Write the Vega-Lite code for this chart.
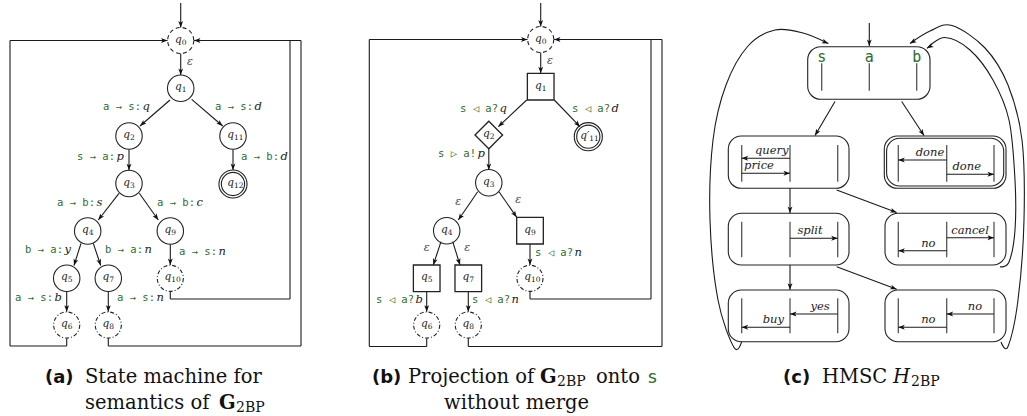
{
"$schema":"https://vega.github.io/schema/vega-lite/v6.json",
"width":1027,"height":416,"padding":0,"autosize":{"type":"none"},
"background":"white",
"config":{"view":{"stroke":null}},
"datasets":{
"nodes":[
{"n":"q","s":"0","x":180.7,"y":40.5,"k":"dash"},
{"n":"q","s":"1","x":180.7,"y":88.3,"k":"circle"},
{"n":"q","s":"2","x":129,"y":136,"k":"circle"},
{"n":"q","s":"11","x":233,"y":136,"k":"circle"},
{"n":"q","s":"3","x":129,"y":183.5,"k":"circle"},
{"n":"q","s":"12","x":233,"y":184,"k":"double"},
{"n":"q","s":"4","x":87.7,"y":231,"k":"circle"},
{"n":"q","s":"9","x":170.3,"y":231,"k":"circle"},
{"n":"q","s":"5","x":66.7,"y":278.3,"k":"circle"},
{"n":"q","s":"7","x":108.3,"y":278.3,"k":"circle"},
{"n":"q","s":"10","x":170.3,"y":278.3,"k":"dashdot"},
{"n":"q","s":"6","x":66.7,"y":325,"k":"dashdot"},
{"n":"q","s":"8","x":108.3,"y":325,"k":"dashdot"},
{"n":"q","s":"0","x":540.7,"y":39.5,"k":"dash"},
{"n":"q","s":"1","x":540.7,"y":86.7,"k":"square"},
{"n":"q","s":"2","x":488.8,"y":135,"k":"diamond"},
{"n":"q′","s":"11","x":588.3,"y":136.7,"k":"double"},
{"n":"q","s":"3","x":488.8,"y":182.7,"k":"circle"},
{"n":"q","s":"4","x":446.7,"y":230.7,"k":"circle"},
{"n":"q","s":"9","x":530,"y":230.7,"k":"square"},
{"n":"q","s":"5","x":426.7,"y":278.3,"k":"square"},
{"n":"q","s":"7","x":468.3,"y":278.3,"k":"square"},
{"n":"q","s":"10","x":530,"y":278.3,"k":"dashdot"},
{"n":"q","s":"6","x":426.7,"y":325,"k":"dashdot"},
{"n":"q","s":"8","x":468.3,"y":325,"k":"dashdot"}
],
"edges":[
{"x":180.7,"y":3,"x2":180.7,"y2":27.5,"t":"a"},
{"x":180.7,"y":53.5,"x2":180.7,"y2":75,"t":"a"},
{"x":170,"y":100,"x2":140,"y2":126,"t":"a"},
{"x":191.7,"y":99.3,"x2":222.7,"y2":126,"t":"a"},
{"x":129,"y":149.3,"x2":129,"y2":170.2,"t":"a"},
{"x":233,"y":149.3,"x2":233,"y2":170,"t":"a"},
{"x":119,"y":193.3,"x2":98.3,"y2":220,"t":"a"},
{"x":139.3,"y":193.3,"x2":158.3,"y2":220,"t":"a"},
{"x":81,"y":243.3,"x2":74,"y2":265.5,"t":"a"},
{"x":93.3,"y":243.3,"x2":100.7,"y2":265.5,"t":"a"},
{"x":170.3,"y":244.3,"x2":170.3,"y2":265,"t":"a"},
{"x":66.7,"y":291.6,"x2":66.7,"y2":311.7,"t":"a"},
{"x":108.3,"y":291.6,"x2":108.3,"y2":311.7,"t":"a"},
{"x":66.7,"y":338.3,"x2":66.7,"y2":346,"t":"l"},
{"x":66.7,"y":346,"x2":10,"y2":346,"t":"l"},
{"x":10,"y":346,"x2":10,"y2":40.5,"t":"l"},
{"x":10,"y":40.5,"x2":167.5,"y2":40.5,"t":"a"},
{"x":108.3,"y":338.3,"x2":108.3,"y2":346,"t":"l"},
{"x":108.3,"y":346,"x2":301,"y2":346,"t":"l"},
{"x":301,"y":346,"x2":301,"y2":40.5,"t":"l"},
{"x":301,"y":40.5,"x2":194,"y2":40.5,"t":"a"},
{"x":170.3,"y":291.6,"x2":170.3,"y2":299,"t":"l"},
{"x":170.3,"y":299,"x2":290,"y2":299,"t":"l"},
{"x":290,"y":299,"x2":290,"y2":40.5,"t":"l"},
{"x":540.7,"y":3,"x2":540.7,"y2":26.5,"t":"a"},
{"x":540.7,"y":52.5,"x2":540.7,"y2":73.3,"t":"a"},
{"x":526.7,"y":100,"x2":498.3,"y2":126.7,"t":"a"},
{"x":554.3,"y":100,"x2":580,"y2":126.7,"t":"a"},
{"x":488.8,"y":148.5,"x2":488.8,"y2":170,"t":"a"},
{"x":477.7,"y":191.7,"x2":458.3,"y2":220,"t":"a"},
{"x":499,"y":191.7,"x2":516.7,"y2":217.3,"t":"a"},
{"x":441,"y":241.7,"x2":433.3,"y2":265,"t":"a"},
{"x":452.7,"y":241.7,"x2":460,"y2":265,"t":"a"},
{"x":530,"y":244,"x2":530,"y2":265,"t":"a"},
{"x":426.7,"y":291.7,"x2":426.7,"y2":311.7,"t":"a"},
{"x":468.3,"y":291.7,"x2":468.3,"y2":311.7,"t":"a"},
{"x":426.7,"y":338.3,"x2":426.7,"y2":346.5,"t":"l"},
{"x":426.7,"y":346.5,"x2":369.3,"y2":346.5,"t":"l"},
{"x":369.3,"y":346.5,"x2":369.3,"y2":39.5,"t":"l"},
{"x":369.3,"y":39.5,"x2":527.5,"y2":39.5,"t":"a"},
{"x":468.3,"y":338.3,"x2":468.3,"y2":346.5,"t":"l"},
{"x":468.3,"y":346.5,"x2":662,"y2":346.5,"t":"l"},
{"x":662,"y":346.5,"x2":662,"y2":39.5,"t":"l"},
{"x":662,"y":39.5,"x2":554,"y2":39.5,"t":"a"},
{"x":530,"y":291.6,"x2":530,"y2":299,"t":"l"},
{"x":530,"y":299,"x2":651,"y2":299,"t":"l"},
{"x":651,"y":299,"x2":651,"y2":39.5,"t":"l"},
{"x":869.3,"y":23,"x2":869.3,"y2":46,"t":"a"},
{"x":835,"y":101.5,"x2":815,"y2":135.5,"t":"a"},
{"x":901.7,"y":101.5,"x2":924,"y2":135.5,"t":"a"},
{"x":790,"y":188.3,"x2":790,"y2":213,"t":"a"},
{"x":836.7,"y":190,"x2":896.7,"y2":212.5,"t":"a"},
{"x":790,"y":265,"x2":790,"y2":289.7,"t":"a"},
{"x":836.7,"y":266.7,"x2":896.7,"y2":289.2,"t":"a"},
{"x":790,"y":158.3,"x2":741.7,"y2":158.3,"t":"a"},
{"x":741.7,"y":173.3,"x2":790,"y2":173.3,"t":"a"},
{"x":946.7,"y":160,"x2":898.3,"y2":160,"t":"a"},
{"x":946.7,"y":174.3,"x2":994,"y2":174.3,"t":"a"},
{"x":790,"y":238.3,"x2":837.7,"y2":238.3,"t":"a"},
{"x":946.7,"y":237.7,"x2":994,"y2":237.7,"t":"a"},
{"x":946.7,"y":250.7,"x2":898.3,"y2":250.7,"t":"a"},
{"x":837.7,"y":314,"x2":790,"y2":314,"t":"a"},
{"x":790,"y":327.3,"x2":741.7,"y2":327.3,"t":"a"},
{"x":994,"y":314,"x2":946.7,"y2":314,"t":"a"},
{"x":946.7,"y":327.3,"x2":898.3,"y2":327.3,"t":"a"},
{"x":803,"y":33,"x2":828.3,"y2":43.5,"t":"h"},
{"x":945,"y":37.5,"x2":927,"y2":48.3,"t":"h"},
{"x":930,"y":31,"x2":910,"y2":43.5,"t":"h"}
],
"lifelines":[
{"x":821.7,"y":63.3,"y2":90.7},{"x":869.3,"y":63.3,"y2":90.7},{"x":916.7,"y":63.3,"y2":90.7},
{"x":741.7,"y":145,"y2":181.7},{"x":790,"y":145,"y2":181.7},{"x":837.7,"y":145,"y2":181.7},
{"x":898.3,"y":145,"y2":181.7},{"x":946.7,"y":145,"y2":181.7},{"x":994,"y":145,"y2":181.7},
{"x":741.7,"y":221.7,"y2":257.3},{"x":790,"y":221.7,"y2":257.3},{"x":837.7,"y":221.7,"y2":257.3},
{"x":898.3,"y":221.7,"y2":257.3},{"x":946.7,"y":221.7,"y2":257.3},{"x":994,"y":221.7,"y2":257.3},
{"x":741.7,"y":298.3,"y2":333.3},{"x":790,"y":298.3,"y2":333.3},{"x":837.7,"y":298.3,"y2":333.3},
{"x":898.3,"y":298.3,"y2":333.3},{"x":946.7,"y":298.3,"y2":333.3},{"x":994,"y":298.3,"y2":333.3}
],
"boxes":[
{"x":807.7,"x2":930,"y":46.7,"y2":99.3},
{"x":728.3,"x2":849,"y":136,"y2":188.3},
{"x":884.3,"x2":1006,"y":136,"y2":188.3},
{"x":886.6,"x2":1003.7,"y":138.3,"y2":186},
{"x":728.3,"x2":849,"y":213.3,"y2":265},
{"x":885,"x2":1006,"y":213.3,"y2":265},
{"x":728.3,"x2":849,"y":290,"y2":341.7},
{"x":885,"x2":1006,"y":290,"y2":341.7}
],
"curves":[
{"c":"L","i":0,"x":741.7,"y":341.7},{"c":"L","i":1,"x":734,"y":347.5},{"c":"L","i":2,"x":718,"y":300},{"c":"L","i":3,"x":710,"y":220},{"c":"L","i":4,"x":713,"y":140},{"c":"L","i":5,"x":726,"y":85},{"c":"L","i":6,"x":748,"y":46},{"c":"L","i":7,"x":775,"y":30},{"c":"L","i":8,"x":803,"y":33},{"c":"L","i":9,"x":828.3,"y":43.5},
{"c":"R1","i":0,"x":1000,"y":266.7},{"c":"R1","i":1,"x":1009,"y":262},{"c":"R1","i":2,"x":1015,"y":230},{"c":"R1","i":3,"x":1015,"y":180},{"c":"R1","i":4,"x":1009,"y":120},{"c":"R1","i":5,"x":993,"y":80},{"c":"R1","i":6,"x":970,"y":50},{"c":"R1","i":7,"x":945,"y":37.5},{"c":"R1","i":8,"x":927,"y":48.3},
{"c":"R2","i":0,"x":1001,"y":342},{"c":"R2","i":1,"x":1008,"y":346.5},{"c":"R2","i":2,"x":1018,"y":300},{"c":"R2","i":3,"x":1024,"y":220},{"c":"R2","i":4,"x":1022,"y":140},{"c":"R2","i":5,"x":1008,"y":85},{"c":"R2","i":6,"x":985,"y":48},{"c":"R2","i":7,"x":952,"y":25.5},{"c":"R2","i":8,"x":930,"y":31},{"c":"R2","i":9,"x":910,"y":43.5}
],
"elabels":[
{"g":"a → s:","v":"q","x":141,"y":107},
{"g":"a → s:","v":"d","x":253,"y":107},
{"g":"s → a:","v":"p","x":115,"y":157},
{"g":"a → b:","v":"d","x":279,"y":157},
{"g":"a → b:","v":"s","x":95,"y":202.7},
{"g":"a → b:","v":"c","x":195,"y":202.7},
{"g":"b → a:","v":"y","x":63,"y":250},
{"g":"b → a:","v":"n","x":143,"y":250},
{"g":"a → s:","v":"n","x":217,"y":251.7},
{"g":"a → s:","v":"b","x":53,"y":298.3},
{"g":"a → s:","v":"n","x":155,"y":298.3},
{"g":"s ◁ a?","v":"q","x":498,"y":108.7},
{"g":"s ◁ a?","v":"d","x":610,"y":108.7},
{"g":"s ▷ a!","v":"p","x":476,"y":154.3},
{"g":"s ◁ a?","v":"n","x":573,"y":252.7},
{"g":"s ◁ a?","v":"b","x":414,"y":300},
{"g":"s ◁ a?","v":"n","x":510,"y":300}
],
"texts":[
{"k":"msg","t":"query","x":771.7,"y":151},
{"k":"msg","t":"price","x":759,"y":166},
{"k":"msg","t":"done","x":930,"y":153.3},
{"k":"msg","t":"done","x":966.7,"y":167},
{"k":"msg","t":"split","x":810,"y":230.5},
{"k":"msg","t":"cancel","x":970,"y":230.5},
{"k":"msg","t":"no","x":928.3,"y":244},
{"k":"msg","t":"yes","x":820,"y":306.7},
{"k":"msg","t":"buy","x":773.3,"y":320},
{"k":"msg","t":"no","x":975,"y":306.7},
{"k":"msg","t":"no","x":928.3,"y":320},
{"k":"eps","t":"ε","x":190,"y":62},
{"k":"eps","t":"ε","x":550,"y":61},
{"k":"eps","t":"ε","x":458.3,"y":201.7},
{"k":"eps","t":"ε","x":518.3,"y":200},
{"k":"eps","t":"ε","x":426.7,"y":248.3},
{"k":"eps","t":"ε","x":467.3,"y":248.3},
{"k":"life","t":"s","x":821.7,"y":57.3},
{"k":"life","t":"a","x":869.3,"y":57.3},
{"k":"life","t":"b","x":916.7,"y":57.3}
],
"caps":[
{"k":"lbl","t":"(a)","x":45,"y":383},
{"k":"rm","t":"State machine for","x":85,"y":383},
{"k":"rm","t":"semantics of","x":85,"y":409},
{"k":"bf","t":"G","x":219,"y":409},
{"k":"sub","t":"2BP","x":236,"y":412},
{"k":"lbl","t":"(b)","x":372,"y":383},
{"k":"rm","t":"Projection of","x":408,"y":383},
{"k":"bf","t":"G","x":540,"y":383},
{"k":"sub","t":"2BP","x":557,"y":386},
{"k":"rm","t":"onto","x":596,"y":383},
{"k":"grn","t":"s","x":647,"y":383},
{"k":"rm","t":"without merge","x":444,"y":409},
{"k":"lbl","t":"(c)","x":783,"y":383},
{"k":"rm","t":"HMSC","x":822,"y":383},
{"k":"it","t":"H","x":893,"y":383},
{"k":"sub","t":"2BP","x":911,"y":386}
]
},
"encoding":{
"x":{"field":"x","type":"quantitative","scale":{"domain":[0,1027],"nice":false,"zero":false},"axis":null},
"y":{"field":"y","type":"quantitative","scale":{"domain":[0,416],"nice":false,"zero":false,"reverse":true},"axis":null}
},
"layer":[
{"data":{"name":"boxes"},"mark":{"type":"rect","cornerRadius":13,"fill":"white","fillOpacity":0,"stroke":"#222","strokeWidth":1.1},
 "encoding":{"x2":{"field":"x2"},"y2":{"field":"y2"}}},
{"data":{"name":"lifelines"},"mark":{"type":"rule","stroke":"#555","strokeWidth":1.3},
 "encoding":{"y2":{"field":"y2"}}},
{"data":{"name":"edges"},"transform":[{"filter":"datum.t != 'h'"}],"mark":{"type":"rule","stroke":"#1a1a1a","strokeWidth":1.1},
 "encoding":{"x2":{"field":"x2"},"y2":{"field":"y2"}}},
{"data":{"name":"curves"},"mark":{"type":"line","interpolate":"cardinal","stroke":"#1a1a1a","strokeWidth":1.1},
 "encoding":{"detail":{"field":"c","type":"nominal"},"order":{"field":"i","type":"quantitative"}}},
{"data":{"name":"edges"},"transform":[{"filter":"datum.t != 'l'"},{"calculate":"atan2(datum.x2 - datum.x, datum.y - datum.y2) * 180 / PI","as":"ang"}],
 "mark":{"type":"point","shape":"M0,0 L0.75,2 L0,1.5 L-0.75,2 Z","filled":true,"fill":"#111","opacity":1,"strokeWidth":0,"size":42},
 "encoding":{
  "x":{"field":"x2","type":"quantitative","scale":{"domain":[0,1027],"nice":false,"zero":false},"axis":null},
  "y":{"field":"y2","type":"quantitative","scale":{"domain":[0,416],"nice":false,"zero":false,"reverse":true},"axis":null},
  "angle":{"field":"ang","type":"quantitative","scale":null}}},
{"data":{"name":"nodes"},"transform":[{"filter":"datum.k == 'circle'"}],"mark":{"type":"point","shape":"circle","filled":false,"size":700,"stroke":"#222","strokeWidth":1.1,"opacity":1}},
{"data":{"name":"nodes"},"transform":[{"filter":"datum.k == 'double'"}],"mark":{"type":"point","shape":"circle","filled":false,"size":790,"stroke":"#222","strokeWidth":1.1,"opacity":1}},
{"data":{"name":"nodes"},"transform":[{"filter":"datum.k == 'double'"}],"mark":{"type":"point","shape":"circle","filled":false,"size":540,"stroke":"#222","strokeWidth":1.1,"opacity":1}},
{"data":{"name":"nodes"},"transform":[{"filter":"datum.k == 'dash'"}],"mark":{"type":"point","shape":"circle","filled":false,"size":680,"stroke":"#222","strokeWidth":1.1,"strokeDash":[4,3],"opacity":1}},
{"data":{"name":"nodes"},"transform":[{"filter":"datum.k == 'dashdot'"}],"mark":{"type":"point","shape":"circle","filled":false,"size":680,"stroke":"#222","strokeWidth":1.1,"strokeDash":[4,2,1,2],"opacity":1}},
{"data":{"name":"nodes"},"transform":[{"filter":"datum.k == 'square'"}],"mark":{"type":"point","shape":"square","filled":false,"size":710,"stroke":"#222","strokeWidth":1.3,"opacity":1}},
{"data":{"name":"nodes"},"transform":[{"filter":"datum.k == 'diamond'"}],"mark":{"type":"point","shape":"diamond","filled":false,"size":760,"stroke":"#222","strokeWidth":1.3,"opacity":1}},
{"data":{"name":"nodes"},"mark":{"type":"text","font":"DejaVu Serif","fontStyle":"italic","fontSize":10.5,"color":"#222","align":"right","baseline":"middle","dx":1,"dy":-1},
 "encoding":{"text":{"field":"n"}}},
{"data":{"name":"nodes"},"mark":{"type":"text","font":"DejaVu Serif","fontSize":7.5,"color":"#222","align":"left","baseline":"middle","dx":1,"dy":2},
 "encoding":{"text":{"field":"s"}}},
{"data":{"name":"elabels"},"mark":{"type":"text","font":"DejaVu Sans Mono","fontSize":10.5,"color":"#2f6b2f","align":"right","baseline":"middle"},
 "encoding":{"text":{"field":"g"}}},
{"data":{"name":"elabels"},"mark":{"type":"text","font":"DejaVu Serif","fontStyle":"italic","fontSize":11.5,"color":"#222","align":"left","baseline":"middle","dx":1.5},
 "encoding":{"text":{"field":"v"}}},
{"data":{"name":"texts"},"transform":[{"filter":"datum.k == 'msg'"}],"mark":{"type":"text","font":"DejaVu Serif","fontStyle":"italic","fontSize":11.5,"color":"#222","align":"center","baseline":"middle"},
 "encoding":{"text":{"field":"t"}}},
{"data":{"name":"texts"},"transform":[{"filter":"datum.k == 'eps'"}],"mark":{"type":"text","font":"DejaVu Serif","fontStyle":"italic","fontSize":11,"color":"#444","align":"center","baseline":"middle"},
 "encoding":{"text":{"field":"t"}}},
{"data":{"name":"texts"},"transform":[{"filter":"datum.k == 'life'"}],"mark":{"type":"text","font":"DejaVu Sans Mono","fontSize":15,"color":"#2f6b2f","align":"center","baseline":"middle"},
 "encoding":{"text":{"field":"t"}}},
{"data":{"name":"caps"},"transform":[{"filter":"datum.k == 'lbl'"}],"mark":{"type":"text","font":"DejaVu Sans","fontWeight":"bold","fontSize":18,"color":"#111","align":"left","baseline":"alphabetic"},
 "encoding":{"text":{"field":"t"}}},
{"data":{"name":"caps"},"transform":[{"filter":"datum.k == 'rm'"}],"mark":{"type":"text","font":"DejaVu Serif","fontSize":19.5,"color":"#111","align":"left","baseline":"alphabetic"},
 "encoding":{"text":{"field":"t"}}},
{"data":{"name":"caps"},"transform":[{"filter":"datum.k == 'bf'"}],"mark":{"type":"text","font":"DejaVu Serif","fontWeight":"bold","fontSize":19.5,"color":"#111","align":"left","baseline":"alphabetic"},
 "encoding":{"text":{"field":"t"}}},
{"data":{"name":"caps"},"transform":[{"filter":"datum.k == 'it'"}],"mark":{"type":"text","font":"DejaVu Serif","fontStyle":"italic","fontSize":19.5,"color":"#111","align":"left","baseline":"alphabetic"},
 "encoding":{"text":{"field":"t"}}},
{"data":{"name":"caps"},"transform":[{"filter":"datum.k == 'sub'"}],"mark":{"type":"text","font":"DejaVu Serif","fontSize":14,"color":"#111","align":"left","baseline":"alphabetic"},
 "encoding":{"text":{"field":"t"}}},
{"data":{"name":"caps"},"transform":[{"filter":"datum.k == 'grn'"}],"mark":{"type":"text","font":"DejaVu Sans Mono","fontSize":18,"color":"#2f6b2f","align":"left","baseline":"alphabetic"},
 "encoding":{"text":{"field":"t"}}}
]
}
